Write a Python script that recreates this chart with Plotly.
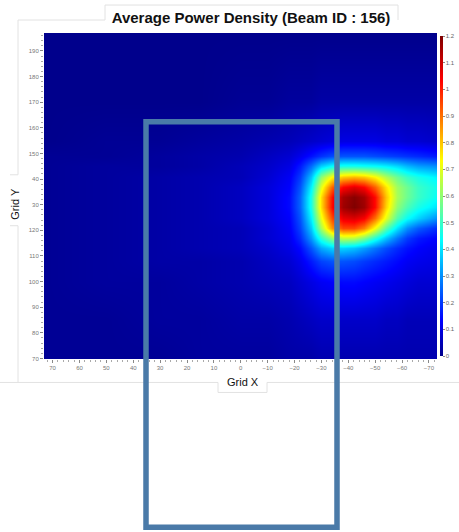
import plotly.graph_objects as go

# ---- data ----
title_text = "Average Power Density (Beam ID : 156)"
x_label = "Grid X"
y_label = "Grid Y"

# grid columns (Grid X), listed left-to-right as in the picture
grid_x = [73, 50, 30, 15, 0, -10, -18, -22, -26, -30, -34, -38, -42, -46, -50, -54, -58, -62, -66, -73]
# grid rows (Grid Y), bottom to top
grid_y = [69.5, 85, 100, 108, 113, 117, 121, 125, 129, 133, 137, 141, 145, 149, 155, 170, 197]

row_069 = [0.01,0.01,0.01,0.02,0.02,0.02,0.03,0.03,0.03,0.04,0.04,0.04,0.04,0.04,0.04,0.04,0.04,0.04,0.04,0.04]
row_085 = [0.01,0.01,0.02,0.02,0.03,0.03,0.04,0.05,0.06,0.07,0.07,0.07,0.07,0.07,0.07,0.06,0.06,0.05,0.05,0.05]
row_100 = [0.01,0.02,0.02,0.03,0.04,0.05,0.06,0.08,0.10,0.12,0.13,0.14,0.14,0.13,0.12,0.11,0.10,0.09,0.08,0.08]
row_108 = [0.01,0.02,0.03,0.03,0.04,0.06,0.08,0.11,0.16,0.21,0.23,0.23,0.22,0.20,0.18,0.16,0.14,0.12,0.11,0.10]
row_113 = [0.01,0.02,0.03,0.04,0.05,0.07,0.10,0.14,0.23,0.33,0.38,0.38,0.36,0.32,0.27,0.22,0.18,0.15,0.13,0.11]
row_117 = [0.01,0.02,0.03,0.04,0.05,0.08,0.11,0.18,0.31,0.48,0.60,0.66,0.65,0.58,0.47,0.36,0.27,0.20,0.16,0.13]
row_121 = [0.01,0.02,0.03,0.04,0.05,0.08,0.12,0.21,0.37,0.63,0.86,0.95,0.95,0.88,0.72,0.54,0.40,0.30,0.24,0.18]
row_125 = [0.01,0.02,0.03,0.04,0.06,0.09,0.13,0.23,0.42,0.71,0.95,1.06,1.08,1.04,0.90,0.70,0.53,0.44,0.38,0.30]
row_129 = [0.01,0.02,0.03,0.04,0.06,0.09,0.14,0.25,0.46,0.77,1.03,1.16,1.20,1.16,1.02,0.78,0.60,0.52,0.46,0.40]
row_133 = [0.01,0.02,0.03,0.04,0.06,0.09,0.14,0.25,0.46,0.77,1.02,1.15,1.19,1.15,1.02,0.80,0.63,0.56,0.50,0.44]
row_137 = [0.01,0.02,0.03,0.04,0.06,0.09,0.13,0.23,0.42,0.70,0.92,1.03,1.07,1.03,0.92,0.76,0.62,0.56,0.50,0.45]
row_141 = [0.01,0.02,0.03,0.04,0.05,0.08,0.12,0.20,0.36,0.60,0.74,0.80,0.82,0.80,0.74,0.64,0.56,0.50,0.46,0.42]
row_145 = [0.01,0.02,0.02,0.03,0.05,0.07,0.10,0.16,0.26,0.38,0.44,0.46,0.46,0.45,0.44,0.42,0.39,0.35,0.32,0.30]
row_149 = [0.01,0.01,0.02,0.03,0.04,0.06,0.08,0.11,0.15,0.19,0.22,0.23,0.23,0.23,0.22,0.21,0.20,0.19,0.18,0.16]
row_155 = [0.00,0.01,0.01,0.02,0.03,0.04,0.05,0.06,0.07,0.08,0.09,0.10,0.10,0.10,0.10,0.09,0.09,0.08,0.08,0.07]
row_170 = [0.00,0.00,0.00,0.00,0.01,0.01,0.02,0.02,0.02,0.03,0.03,0.03,0.03,0.03,0.03,0.03,0.03,0.03,0.03,0.03]
row_197 = [0.00,0.00,0.00,0.00,0.00,0.00,0.00,0.00,0.00,0.00,0.00,0.00,0.00,0.00,0.00,0.00,0.00,0.00,0.00,0.00]

x_ticks = [70, 60, 50, 40, 30, 20, 10, 0, -10, -20, -30, -40, -50, -60, -70]
y_ticks = [70, 80, 90, 100, 110, 120, 130, 140, 150, 160, 170, 180, 190]
y_tick_text = ["70", "80", "90", "100", "110", "120", "30", "40", "150", "160", "170", "180", "190"]
cbar_ticks = [0, 0.1, 0.2, 0.3, 0.4, 0.5, 0.6, 0.7, 0.8, 0.9, 1, 1.1, 1.2]

rows = [row_069, row_085, row_100, row_108, row_113, row_117, row_121, row_125, row_129,
        row_133, row_137, row_141, row_145, row_149, row_155, row_170, row_197]

# increasing x order for the library
xs = grid_x[::-1]
z = [r[::-1] for r in rows]

jet = [
    [0.0, "rgb(0,0,140)"],
    [0.11, "rgb(0,0,255)"],
    [0.36, "rgb(0,255,255)"],
    [0.61, "rgb(255,255,0)"],
    [0.86, "rgb(255,0,0)"],
    [1.0, "rgb(128,0,0)"],
]

W, H = 459, 532
L, R, T, B = 44, 437, 33, 359.5
PW, PH = R - L, B - T

def px(xp):
    return (xp - L) / PW

def py(yp):
    return (B - yp) / PH

fig = go.Figure()
fig.add_trace(go.Heatmap(
    x=xs, y=grid_y, z=z, zmin=0, zmax=1.2, zsmooth="best",
    colorscale=jet,
    colorbar=dict(
        thickness=3, len=py(36) - py(356.5), y=py(356.5), yanchor="bottom",
        x=px(440), xanchor="left", xpad=0, ypad=0,
        outlinewidth=0, tickvals=cbar_ticks, ticks="outside", ticklen=2,
        tickcolor="#888", tickfont=dict(size=6, color="#666", family="Liberation Sans"),
    ),
))

fig.update_layout(
    width=W, height=H,
    margin=dict(l=L, r=W - R, t=T, b=H - B, autoexpand=False),
    paper_bgcolor="white", plot_bgcolor="white",
    font=dict(family="Liberation Sans, Arial, sans-serif"),
    title=dict(text="<b>" + title_text + "</b>", x=251 / W, xanchor="center",
               y=1 - 18 / H, yanchor="middle", font=dict(size=15, color="#111")),
    xaxis=dict(range=[73.2, -73], tickmode="array", tickvals=x_ticks,
               ticks="outside", ticklen=3, tickcolor="#888", showgrid=False, zeroline=False,
               tickfont=dict(size=6, color="#777"),
               minor=dict(tickmode="linear", tick0=0, dtick=2, ticks="outside", ticklen=2, tickcolor="#aaa")),
    yaxis=dict(range=[69.8, 197], tickmode="array", tickvals=y_ticks, ticktext=y_tick_text,
               ticks="outside", ticklen=3, tickcolor="#888", showgrid=False, zeroline=False,
               tickfont=dict(size=6, color="#777"),
               minor=dict(tickmode="linear", tick0=0, dtick=2, ticks="outside", ticklen=2, tickcolor="#aaa")),
    annotations=[
        dict(text=y_label, x=px(15), y=py(204), xref="paper", yref="paper", showarrow=False,
             xanchor="center", yanchor="middle",
             textangle=-90, font=dict(size=11, color="#111")),
        dict(text=x_label, x=px(243), y=py(383), xref="paper", yref="paper", showarrow=False,
             xanchor="center", yanchor="middle",
             font=dict(size=11, color="#111")),
    ],
)

# faint screenshot panel lines
faint = "#e2e2e2"
segs = [
    (18, 20, 105, 20), (105, 20, 105, 5), (105, 5, 398, 5), (398, 5, 398, 20),
    (18, 20, 18, 175), (10, 175, 18, 175), (10, 226, 18, 226), (18, 226, 18, 383),
    (0, 383, 218, 383), (218, 383, 218, 393), (218, 393, 267, 393), (267, 393, 267, 383),
    (267, 383, 459, 383),
]
for x0, y0, x1, y1 in segs:
    fig.add_shape(type="line", xref="paper", yref="paper", x0=px(x0), y0=py(y0), x1=px(x1), y1=py(y1),
                  line=dict(color=faint, width=1), layer="below")

# device outline overlay
fig.add_shape(type="rect", xref="paper", yref="paper",
              x0=px(146), x1=px(337), y0=py(528), y1=py(122),
              line=dict(color="#4a7aa8", width=5.5), fillcolor="rgba(0,0,0,0)", layer="above")

fig.write_html("out.html", config={"displayModeBar": False},
               post_script="document.body.style.margin='0';document.body.style.overflow='hidden';")
